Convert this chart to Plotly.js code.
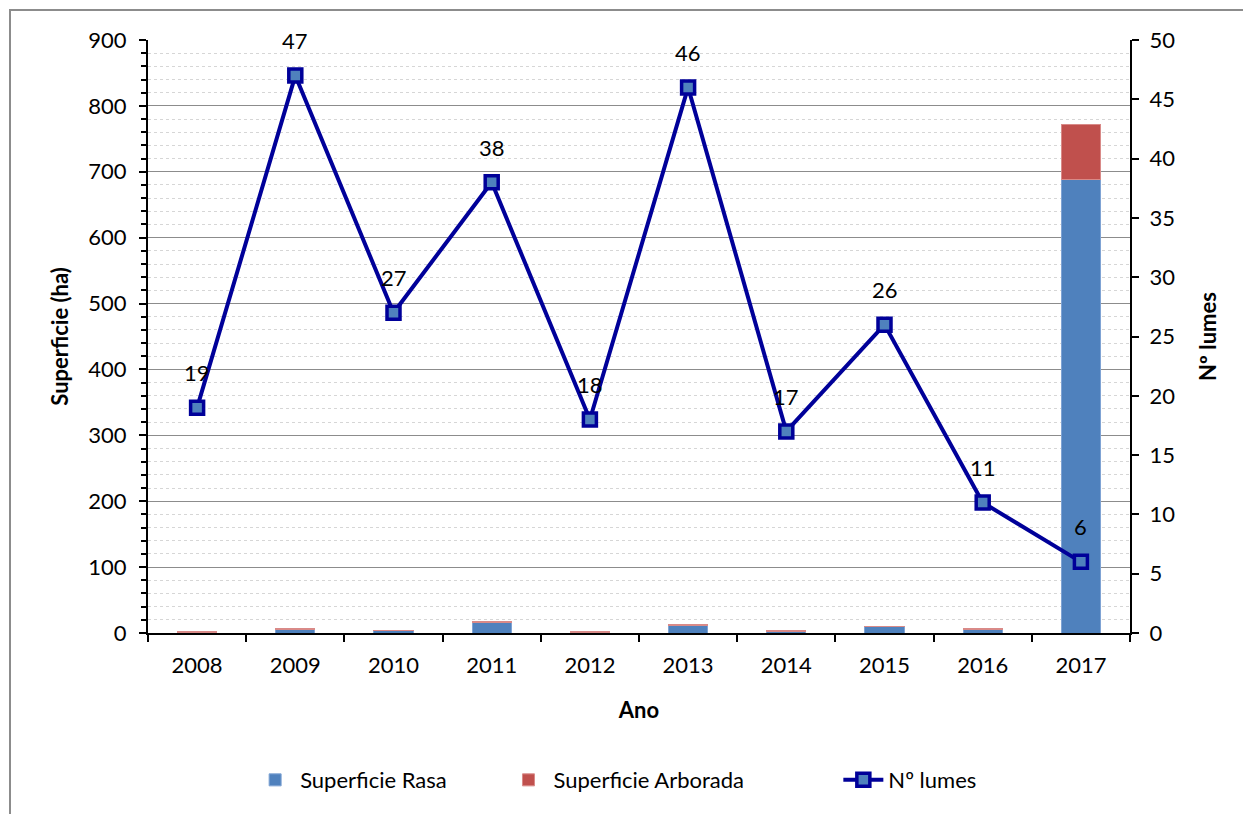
<!DOCTYPE html>
<html>
<head>
<meta charset="utf-8">
<script src="https://cdn.plot.ly/plotly-3.0.1.min.js"></script>
<style>
  html, body { margin: 0; padding: 0; background: #fff; overflow: hidden; }
  #frame { position: absolute; left: 9px; top: 9px; width: 1300px; height: 900px; border-top: 2px solid #8c8c8c; border-left: 2px solid #8c8c8c; pointer-events: none; z-index: 5; }
  #chart { width: 1243px; height: 814px; }
</style>
</head>
<body>
<div id="frame"></div>
<div id="chart"></div>
<script>
const years = ['2008','2009','2010','2011','2012','2013','2014','2015','2016','2017'];
const superficieRasa = [1.5, 6, 3.5, 16, 0.5, 12, 2.5, 9.5, 5.5, 689];
const superficieArborada = [1, 0.5, 1, 1, 1.5, 1.5, 1, 0.5, 1.8, 83];
const numLumes = [19, 47, 27, 38, 18, 46, 17, 26, 11, 6];

const FONT = 'Lato, "Open Sans", sans-serif';
const FS = 22;

const traces = [
  {
    type: 'bar', name: 'Superficie Rasa', x: years, y: superficieRasa, legend: 'legend',
    width: 0.4, marker: { color: '#4F81BD', line: { color: '#7fa3d4', width: 1 } },
    hoverinfo: 'y'
  },
  {
    type: 'bar', name: 'Superficie Arborada', x: years, y: superficieArborada, legend: 'legend2',
    width: 0.4, marker: { color: '#C0504D', line: { color: '#d98a88', width: 1 } },
    hoverinfo: 'y'
  },
  {
    type: 'scatter', mode: 'lines+markers', name: 'Nº lumes', legend: 'legend3',
    x: years, y: numLumes, yaxis: 'y2',
    line: { color: '#000099', width: 4 },
    marker: { symbol: 'square', size: 13, color: '#4F81BD', line: { color: '#000099', width: 3.5 } },
    cliponaxis: false
  }
];

// data labels placed through the axes' own scales (category index on x, value on y2)
const annotations = years.map((yr, i) => ({
  x: i, y: numLumes[i], xref: 'x', yref: 'y2',
  text: String(numLumes[i]), showarrow: false,
  yshift: 35, font: { family: FONT, size: FS, color: '#000' }
}));

const legendBase = {
  orientation: 'h', y: -0.248, yanchor: 'middle', xanchor: 'left',
  font: { family: FONT, size: FS, color: '#000' }, itemwidth: 40,
  bgcolor: 'rgba(0,0,0,0)'
};

const layout = {
  width: 1243, height: 814,
  margin: { l: 148, r: 113, t: 40, b: 181 },
  paper_bgcolor: '#fff', plot_bgcolor: '#fff',
  font: { family: FONT, size: FS, color: '#000' },
  barmode: 'stack',
  showlegend: true,
  annotations: annotations,
  legend: Object.assign({}, legendBase, { x: 0.104 }),
  legend2: Object.assign({}, legendBase, { x: 0.362 }),
  legend3: Object.assign({}, legendBase, { x: 0.703 }),
  xaxis: {
    type: 'category', range: [-0.5, 9.5], autorange: false,
    showline: true, linecolor: '#000', linewidth: 2,
    ticks: 'outside', tickson: 'boundaries', ticklen: 7, tickwidth: 2, tickcolor: '#000',
    ticklabelstandoff: 12,
    tickfont: { family: FONT, size: FS, color: '#000' },
    title: { text: '<b>Ano</b>', font: { family: FONT, size: FS, color: '#000' }, standoff: 25 },
    showgrid: false, zeroline: false, fixedrange: true
  },
  yaxis: {
    range: [0, 900], dtick: 100, tick0: 0,
    showline: true, linecolor: '#000', linewidth: 2,
    ticks: 'outside', ticklen: 7, tickwidth: 2, tickcolor: '#000',
    ticklabelstandoff: 8,
    tickfont: { family: FONT, size: FS, color: '#000' },
    showgrid: true, gridcolor: '#8c8c8c', gridwidth: 1,
    minor: { dtick: 20, ticks: 'outside', ticklen: 5, tickwidth: 2, tickcolor: '#000', showgrid: true, gridcolor: '#d6d6d6', griddash: 'dot', gridwidth: 1 },
    zeroline: false,
    title: { text: '<b>Superficie (ha)</b>', font: { family: FONT, size: FS, color: '#000' }, standoff: 14 },
    fixedrange: true
  },
  yaxis2: {
    overlaying: 'y', side: 'right',
    range: [0, 50], dtick: 5, tick0: 0,
    showline: true, linecolor: '#000', linewidth: 2,
    ticks: 'outside', ticklen: 7, tickwidth: 2, tickcolor: '#000',
    ticklabelstandoff: 6,
    tickfont: { family: FONT, size: FS, color: '#000' },
    showgrid: false, zeroline: false,
    title: { text: '<b>Nº lumes</b>', font: { family: FONT, size: FS, color: '#000' }, standoff: 26 },
    fixedrange: true
  }
};

Plotly.newPlot('chart', traces, layout, { displayModeBar: false, staticPlot: true });
</script>
</body>
</html>
